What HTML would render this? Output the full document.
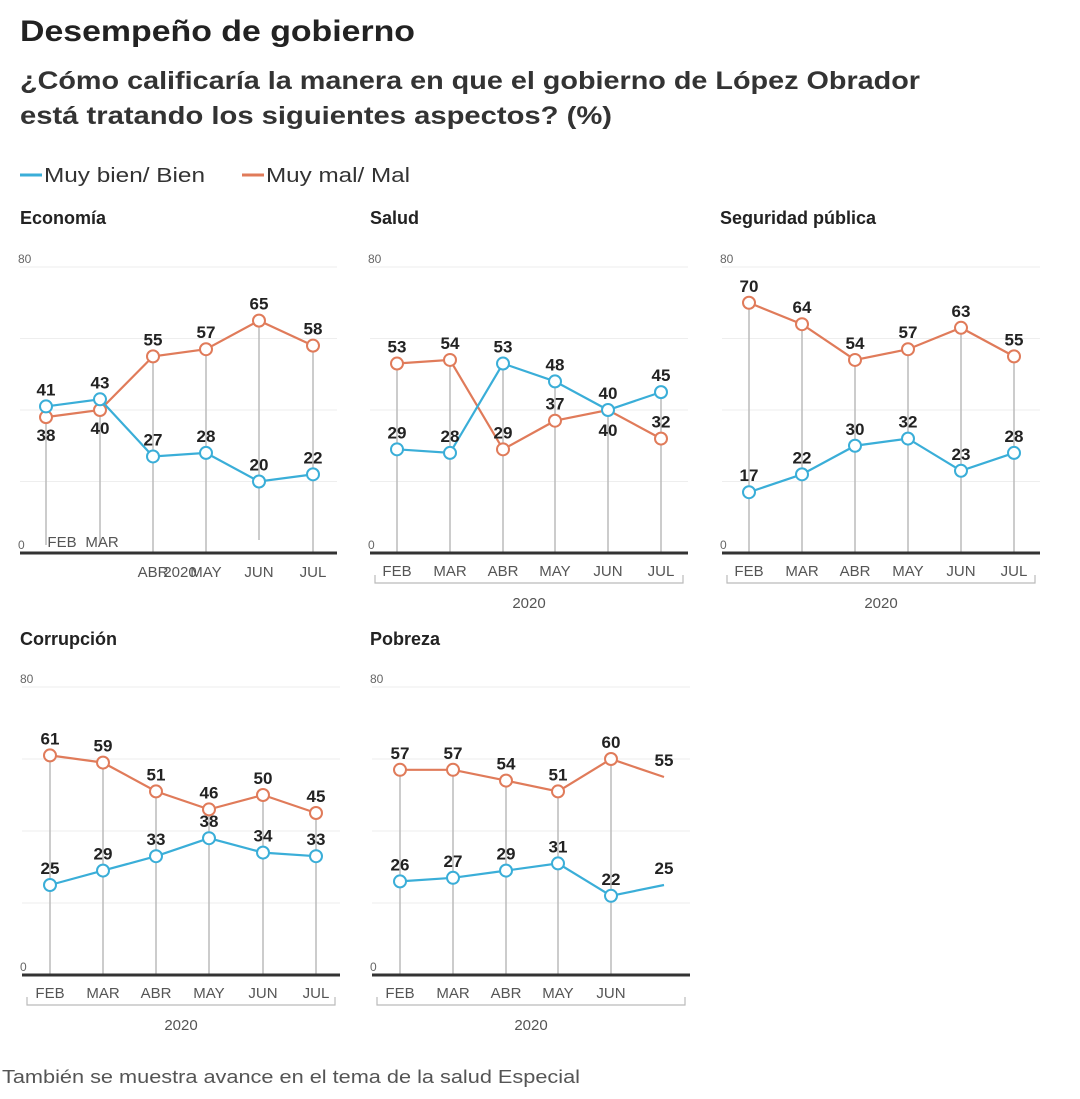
<!DOCTYPE html>
<html><head><meta charset="utf-8"><style>
body{margin:0;background:#fff;width:1080px;height:1094px;overflow:hidden;font-family:"Liberation Sans",sans-serif}
</style></head><body>
<svg id="s" width="1080" height="1094" xmlns="http://www.w3.org/2000/svg" font-family="Liberation Sans, sans-serif">
<text x="20" y="41" font-size="30" font-weight="bold" fill="#222" textLength="395" lengthAdjust="spacingAndGlyphs">Desempeño de gobierno</text>
<text x="20" y="89" font-size="25" font-weight="bold" fill="#333" textLength="900" lengthAdjust="spacingAndGlyphs">¿Cómo calificaría la manera en que el gobierno de López Obrador</text>
<text x="20" y="124" font-size="25" font-weight="bold" fill="#333" textLength="592" lengthAdjust="spacingAndGlyphs">está tratando los siguientes aspectos? (%)</text>
<line x1="20" y1="175" x2="42" y2="175" stroke="#3aaed8" stroke-width="3"/>
<text x="44" y="182" font-size="20" fill="#333" textLength="161" lengthAdjust="spacingAndGlyphs">Muy bien/ Bien</text>
<line x1="242" y1="175" x2="264" y2="175" stroke="#e07b5a" stroke-width="3"/>
<text x="266" y="182" font-size="20" fill="#333" textLength="144" lengthAdjust="spacingAndGlyphs">Muy mal/ Mal</text>
<text x="2" y="1083" font-size="18" fill="#555" textLength="578" lengthAdjust="spacingAndGlyphs">También se muestra avance en el tema de la salud  Especial</text>
<g id="g"></g>
</svg>
<script>
var B="#3aaed8",O="#e07b5a",out="";
function t(x,y,s,o){out+='<text x="'+x+'" y="'+y+'" '+(o||'')+'>'+s+'</text>';}
function panel(p){
 var base=p.base,sc=p.sc,xs=p.xs,x0=p.x0,x1=p.x1;
 t(p.tx,p.ty,p.title,'font-size="18" font-weight="bold" fill="#222"');
 for(var v=20;v<=80;v+=20){var y=base-v*sc;out+='<line x1="'+x0+'" y1="'+y+'" x2="'+x1+'" y2="'+y+'" stroke="#eee" stroke-width="1"/>';}
 t(x0-2,base-80*sc-4,"80",'font-size="12" fill="#666"');
 t(x0-2,base-4,"0",'font-size="12" fill="#666"');
 var Y=function(v){return base-v*sc};
 for(var i=0;i<xs.length;i++){var m=Math.max(p.b[i]||0,p.o[i]||0);if(p.noline&&p.noline.indexOf(i)>=0)continue;out+='<line x1="'+xs[i]+'" y1="'+Y(m)+'" x2="'+xs[i]+'" y2="'+(p.vend&&p.vend[i]?p.vend[i]:base)+'" stroke="#bbb" stroke-width="1.5"/>';}
 out+='<line x1="'+x0+'" y1="'+base+'" x2="'+x1+'" y2="'+base+'" stroke="#333" stroke-width="3"/>';
 [[p.o,O,p.ol,p.oskip],[p.b,B,p.bl,null]].forEach(function(s){
  var d=s[0].map(function(v,i){return (i?'L':'M')+xs[i]+' '+Y(v)}).join(' ');
  out+='<path d="'+d+'" fill="none" stroke="'+s[1]+'" stroke-width="2.2"/>';
  s[0].forEach(function(v,i){var x=xs[i];if(s[3]===i)return;if(!(p.nomark&&i==s[0].length-1))out+='<circle cx="'+x+'" cy="'+Y(v)+'" r="6" fill="#fff" stroke="'+s[1]+'" stroke-width="2"/>';
   var below=s[2]&&s[2][i]==1;t(x,below?Y(v)+24:Y(v)-11,v,'font-size="17" font-weight="bold" fill="#222" text-anchor="middle"');});
 });
 var m=["FEB","MAR","ABR","MAY","JUN","JUL"];
 var fs='font-size="15" fill="#555" text-anchor="middle"';
 if(p.econ){
  t(xs[0]+16,base-6,"FEB",fs);
  t(xs[1]+2,base-6,"MAR",fs);
  for(var i=2;i<6;i++)t(xs[i],base+24,m[i],fs);
  t(180,base+24,"2020",fs);
 }else{
  for(var i=0;i<(p.nm||6);i++)t(xs[i],base+23,m[i],fs);
  var yb=base+30;out+='<path d="M'+(x0+5)+' '+(yb-8)+' V'+yb+' H'+(x1-5)+' V'+(yb-8)+'" fill="none" stroke="#bbb" stroke-width="1.2"/>';
  t((x0+x1)/2,base+55,"2020",fs);
 }
}
var r1=553,s1=3.575,r2=975,s2=3.6;
panel({title:"Economía",tx:20,ty:224,x0:20,x1:337,base:r1,sc:s1,xs:[46,100,153,206,259,313],b:[41,43,27,28,20,22],o:[38,40,55,57,65,58],ol:[1,1,0,0,0,0],econ:1,vend:{4:540,0:545,1:545}});
panel({title:"Salud",tx:370,ty:224,x0:370,x1:688,base:r1,sc:s1,xs:[397,450,503,555,608,661],b:[29,28,53,48,40,45],o:[53,54,29,37,40,32],bl:[0,0,0,0,0,0],oskip:4});
t(608,r1-40*s1+26,"40",'font-size="17" font-weight="bold" fill="#222" text-anchor="middle"');
panel({title:"Seguridad pública",tx:720,ty:224,x0:722,x1:1040,base:r1,sc:s1,xs:[749,802,855,908,961,1014],b:[17,22,30,32,23,28],o:[70,64,54,57,63,55]});
panel({title:"Corrupción",tx:20,ty:645,x0:22,x1:340,base:r2,sc:s2,xs:[50,103,156,209,263,316],b:[25,29,33,38,34,33],o:[61,59,51,46,50,45]});
panel({title:"Pobreza",tx:370,ty:645,x0:372,x1:690,base:r2,sc:s2,xs:[400,453,506,558,611,664],b:[26,27,29,31,22,25],o:[57,57,54,51,60,55],nomark:1,noline:[5],nm:5});
document.getElementById("g").innerHTML=out;
</script>
</body></html>
